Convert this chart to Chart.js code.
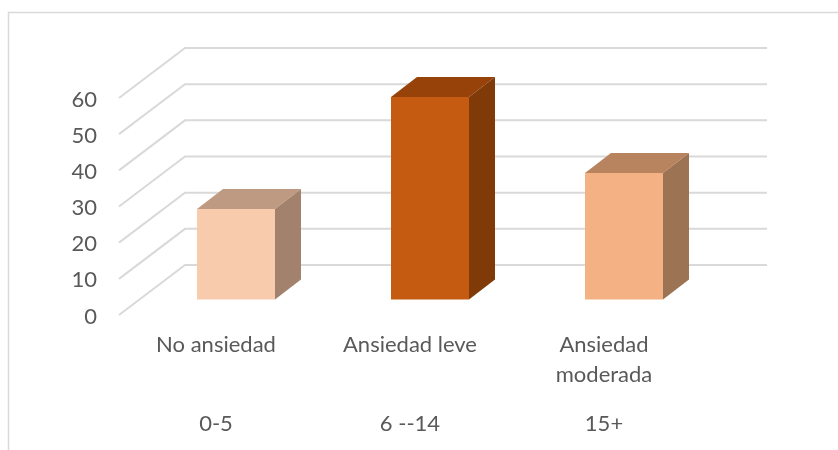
<!DOCTYPE html>
<html>
<head>
<meta charset="utf-8">
<title>Ansiedad</title>
<script src="https://cdn.jsdelivr.net/npm/chart.js@4/dist/chart.umd.min.js"></script>
<style>
  html, body { margin: 0; padding: 0; background: #fff; }
  #wrap { width: 838px; height: 450px; }
</style>
</head>
<body>
<div id="wrap"><canvas id="chart" width="838" height="450"></canvas></div>
<script>
// -------------------- DATA --------------------
const categories = ["No ansiedad", "Ansiedad leve", ["Ansiedad", "moderada"]];
const ranges = ["0-5", "6 --14", "15+"];
const values = [25, 56, 35];
const yTicks = [0, 10, 20, 30, 40, 50, 60];

// Face colours per bar
const frontColors = ["#F8CBAD", "#C55A11", "#F4B183"];
const topColors = ["#BD9A81", "#964208", "#B8845F"];
const sideColors = ["#A3826D", "#7F3A08", "#9C7353"];

const gridColor = "#D9D9D9";
const textColor = "#595959";
const labelFont = { family: "Lato", size: 22, lineHeight: 30 / 22 };

// Box depth of the floor and of the bars, in pixels
const floorDx = 66, floorDy = -50;
const barShiftX = 20, barShiftY = -15.5;
const barDepthX = 26, barDepthY = -20;

function polygon(c, points, color) {
  c.fillStyle = color;
  c.beginPath();
  points.forEach(([x, y], i) => (i ? c.lineTo(x, y) : c.moveTo(x, y)));
  c.closePath();
  c.fill();
}

// Outer frame, side wall lines and back wall lines
const wallPlugin = {
  id: "wall",
  beforeDraw(chart) {
    const c = chart.ctx;
    c.save();
    c.strokeStyle = gridColor;
    c.lineWidth = 1.5;
    c.beginPath();
    c.moveTo(8.5, 450);
    c.lineTo(8.5, 12.5);
    c.lineTo(838, 12.5);
    c.stroke();

    const { left, right } = chart.chartArea;
    c.lineWidth = 2;
    yTicks.forEach((t) => {
      const y = chart.scales.y.getPixelForValue(t);
      c.beginPath();
      c.moveTo(left, y);
      c.lineTo(left + floorDx, y + floorDy);
      c.lineTo(right + floorDx, y + floorDy);
      c.stroke();
    });
    c.restore();
  },
  // Bars stand part way back on the floor, so shift the whole dataset
  beforeDatasetsDraw(chart) {
    chart.ctx.save();
    chart.ctx.translate(barShiftX, barShiftY);
  },
  afterDatasetsDraw(chart) {
    const c = chart.ctx;
    chart.getDatasetMeta(0).data.forEach((bar, i) => {
      const l = bar.x - bar.width / 2;
      const r = bar.x + bar.width / 2;
      polygon(c, [[l, bar.y], [r, bar.y], [r + barDepthX, bar.y + barDepthY], [l + barDepthX, bar.y + barDepthY]], topColors[i]);
      polygon(c, [[r, bar.y], [r + barDepthX, bar.y + barDepthY], [r + barDepthX, bar.base + barDepthY], [r, bar.base]], sideColors[i]);
    });
    c.restore();
  },
};

new Chart(document.getElementById("chart"), {
  type: "bar",
  data: {
    labels: categories,
    datasets: [
      {
        data: values,
        backgroundColor: frontColors,
        borderWidth: 0,
        barPercentage: 1,
        categoryPercentage: 78 / 194,
        clip: false,
      },
    ],
  },
  options: {
    responsive: false,
    animation: false,
    layout: { padding: { top: 98, right: 137, left: 0, bottom: 0 } },
    plugins: { legend: { display: false }, tooltip: { enabled: false } },
    scales: {
      x: {
        grid: { display: false, drawTicks: false },
        border: { display: false },
        ticks: { color: textColor, font: labelFont, padding: 15, maxRotation: 0, autoSkip: false },
        afterFit: (s) => { s.height = 75; },
      },
      x2: {
        type: "category",
        axis: "x",
        position: "bottom",
        labels: ranges,
        grid: { display: false, drawTicks: false },
        border: { display: false },
        ticks: { color: textColor, font: labelFont, padding: 19, maxRotation: 0, autoSkip: false },
        afterFit: (s) => { s.height = 60; },
      },
      y: {
        min: 0,
        max: 60,
        grid: { display: false, drawTicks: false },
        border: { display: false },
        ticks: { color: textColor, font: labelFont, padding: 22, stepSize: 10, labelOffset: 1.5 },
        afterFit: (s) => { s.width = 119; },
      },
    },
  },
  plugins: [wallPlugin],
});
</script>
</body>
</html>
